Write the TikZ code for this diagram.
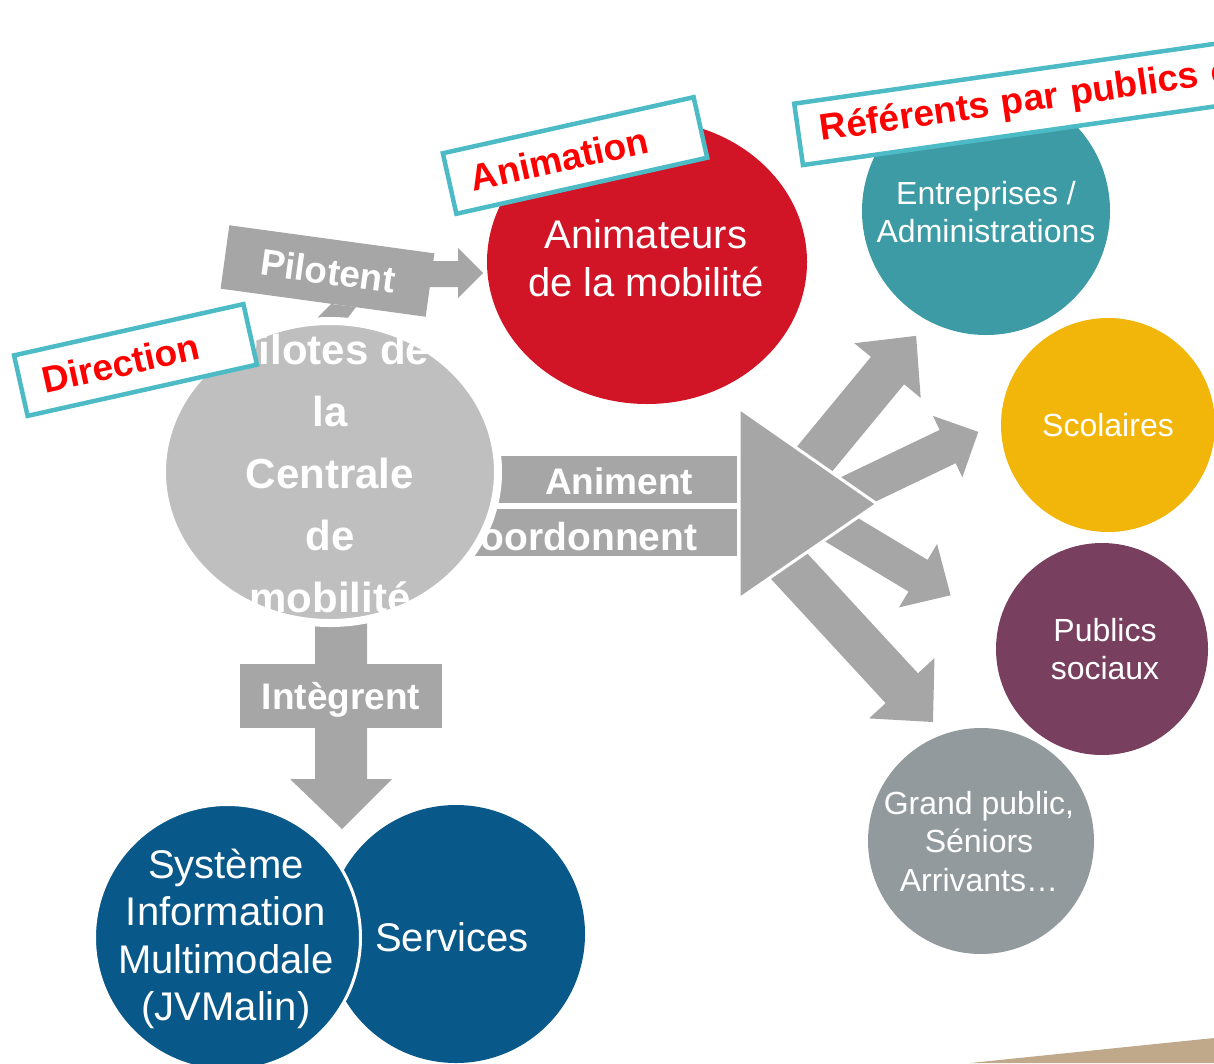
\documentclass[tikz,border=0pt]{standalone}
\usepackage{fontspec}
\setmainfont{Liberation Sans}
\usetikzlibrary{shapes.geometric}

\definecolor{arrowgrey}{HTML}{A6A6A6}
\definecolor{centregrey}{HTML}{BFBFBF}
\definecolor{animred}{HTML}{D11426}
\definecolor{entteal}{HTML}{3C9BA4}
\definecolor{scolyellow}{HTML}{F2B50A}
\definecolor{socpurple}{HTML}{78405E}
\definecolor{gpgrey}{HTML}{939A9D}
\definecolor{sysblue}{HTML}{085889}
\definecolor{tagteal}{HTML}{4DBBC5}
\definecolor{tagred}{HTML}{FF0000}
\definecolor{sandtan}{HTML}{BFA98A}

\newcommand{\tagfont}{\fontsize{37}{44}\selectfont\bfseries}
\newcommand{\boxfont}{\fontsize{37}{44}\selectfont\bfseries}
\newcommand{\centrefont}{\fontsize{42}{62}\selectfont\bfseries}
\newcommand{\discfont}{\fontsize{40}{48}\selectfont}
\newcommand{\sysfont}{\fontsize{40}{47.5}\selectfont}
\newcommand{\pubfont}{\fontsize{32}{38.5}\selectfont}

\tikzset{
  disc/.style={circle, inner sep=0pt},
  oval/.style={ellipse, inner sep=0pt},
  disctext/.style={text=white, align=center, inner sep=0pt},
  tag/.style={draw=tagteal, line width=4.5pt, fill=white, text=tagred,
    font=\tagfont, inner xsep=22pt, inner ysep=0pt, minimum height=62, align=left},
  greybox/.style={fill=arrowgrey, inner sep=0pt},
  boxtext/.style={text=white, font=\boxfont, inner sep=0pt}
}

\begin{document}
\begin{tikzpicture}[x=1pt, y=-1pt]
\useasboundingbox (0,0) rectangle (1214,1063);
\clip (0,0) rectangle (1214,1063);

\fill[sandtan] (970,1063) -- (1214,1038) -- (1214,1063) -- cycle;

% pilotent
\fill[arrowgrey] (316,319) -- (331,304) -- (356,307) -- (347,319) -- cycle;
\node[greybox, rotate=-7.8, minimum width=207, minimum height=64] (pilot) at (327.5,271) {};
\node[boxtext, rotate=-7.8] (pilotlbl) at (328,271) {Pilotent};
\fill[arrowgrey] (420,261) -- (458,261) -- (458,248) -- (483,273) -- (458,298) -- (458,287) -- (420,287) -- cycle;

% animent / coordonnent
\node[greybox, minimum width=267, minimum height=47] (animbox) at (603.5,479.5) {};
\node[greybox, minimum width=297, minimum height=47] (coordbox) at (588.5,532.5) {};
\node[boxtext] (animlbl) at (619,481) {Animent};
\node[boxtext, font=\fontsize{39}{44}\selectfont\bfseries] (coordlbl) at (575,536.5) {Coordonnent};

% integrent
\fill[arrowgrey] (315,600) -- (367,600) -- (367,779) -- (392,779) -- (342,829) -- (290,779) -- (315,779) -- cycle;
\node[greybox, minimum width=202, minimum height=64] (integbox) at (341,696) {};
\node[boxtext] (integlbl) at (341,700) {Intègrent};

% centrale
\node[oval, fill=centregrey, draw=white, line width=8pt, minimum width=336, minimum height=302] (centre) at (330,472) {};
\node[disctext, font=\centrefont] (centretxt) at (330,473) {Pilotes de\\la\\Centrale\\de\\mobilité};

\node[tag, rotate=12.6, text width=191] (dirtag) at (135.5,360) {Direction};

% animateurs
\node[oval, fill=animred, minimum width=320, minimum height=284] (anim) at (647,262) {};
\node[disctext, font=\discfont] (animtxt) at (646,258.5) {Animateurs\\de la mobilité};
\node[tag, rotate=12.6, text width=213] (animtag) at (575,155.5) {Animation};

% rays
\foreach \bx/\by/\ang/\len/\w/\hw/\hl in {808/467/50.5/170/21.5/43/45, 834/501/25.6/160/18.5/34/34, 822/518/-31/150/18.5/37/38, 777/553/-47.3/230/22/44.5/46}
  \fill[arrowgrey, shift={(\bx,\by)}, rotate=\ang] (0,-\w) -- ({\len-\hl},-\w) -- ({\len-\hl},-\hw) -- (\len,0) -- ({\len-\hl},\hw) -- ({\len-\hl},\w) -- (0,\w) -- cycle;
\filldraw[fill=arrowgrey, draw=white, line width=3pt] (739,408) -- (877,504) -- (739,599) -- cycle;

% publics
\node[disc, fill=entteal, minimum size=248] (entr) at (986,211) {};
\node[disctext, font=\pubfont] (entrtxt) at (986,212) {Entreprises /\\Administrations};
\node[tag, rotate=8.1, text width=472] (reftag) at (1054,98) {Référents par publics c};

\node[disc, fill=scolyellow, minimum size=214] (scol) at (1108,425) {};
\node[disctext, font=\pubfont] (scoltxt) at (1108,425) {Scolaires};

\node[disc, fill=socpurple, minimum size=212] (soc) at (1102,649) {};
\node[disctext, font=\pubfont] (soctxt) at (1105,649) {Publics\\sociaux};

\node[disc, fill=gpgrey, minimum size=226] (gp) at (981,841) {};
\node[disctext, font=\pubfont] (gptxt) at (979,841.5) {Grand public,\\Séniors\\Arrivants…};

% services / SIM
\node[disc, fill=sysblue, minimum size=258] (serv) at (456,934) {};
\node[disctext, font=\discfont] (servtxt) at (452,937) {Services};
\node[disc, fill=sysblue, draw=white, line width=3pt, minimum size=266] (sim) at (227.5,937.5) {};
\node[disctext, font=\sysfont] (simtxt) at (226,939) {Système\\Information\\Multimodale\\(JVMalin)};

\end{tikzpicture}
\end{document}
